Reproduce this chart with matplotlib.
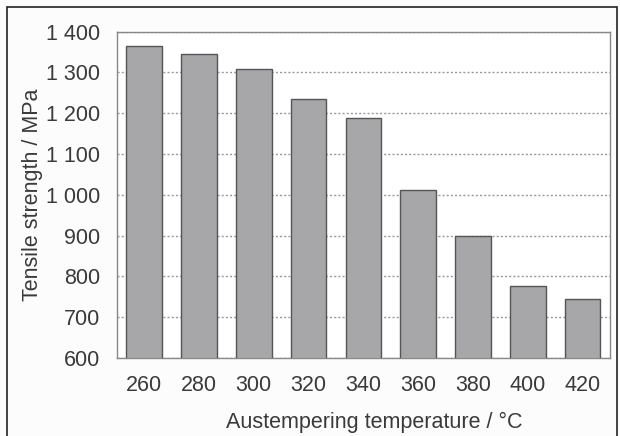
import matplotlib.pyplot as plt
from matplotlib.patches import Rectangle

temps = ['260', '280', '300', '320', '340', '360', '380', '400', '420']
strength = [1364, 1346, 1308, 1235, 1189, 1013, 900, 776, 745]
yticks = [600, 700, 800, 900, 1000, 1100, 1200, 1300, 1400]
ytick_labels = ['600', '700', '800', '900', '1 000', '1 100', '1 200', '1 300', '1 400']

plt.rcParams['font.family'] = ['Liberation Sans', 'DejaVu Sans']

fig = plt.figure(figsize=(6.2, 4.36), dpi=100)
fig.patch.set_facecolor('#fcfcfc')
ax = fig.add_axes([116.7/620, 1 - 358/436, (610 - 116.7)/620, (358 - 31.7)/436])

# outer frame of the figure
fig.patches.append(Rectangle((7/620, -0.05), (617 - 7)/620, 1 - 7/436 + 0.05,
                             transform=fig.transFigure, fill=False,
                             edgecolor='#222222', linewidth=1.2))

x = range(len(temps))
ax.bar(x, strength, width=0.65, color='#a7a7a9', edgecolor='#555555',
       linewidth=1.0, zorder=3)

ax.set_xlim(-0.5, len(temps) - 0.5)
ax.set_ylim(600, 1400)
ax.set_xticks(list(x))
ax.set_xticklabels(temps)
ax.set_yticks(yticks)
ax.set_yticklabels(ytick_labels)
ax.tick_params(length=0, labelsize=15.5, colors='#3a3a3a')
ax.tick_params(axis='y', pad=12)
ax.tick_params(axis='x', pad=12)

ax.yaxis.grid(True, linestyle=(0, (1.5, 1.5)), color='#999999', linewidth=1.0, zorder=0)
for s in ax.spines.values():
    s.set_color('#888888')
    s.set_linewidth(1.0)
ax.set_facecolor('white')

ax.set_xlabel('Austempering temperature / °C', fontsize=15.5, color='#3a3a3a', labelpad=12)
ax.xaxis.label.set_x(0.522)
ax.set_ylabel('Tensile strength / MPa', fontsize=15.5, color='#3a3a3a', labelpad=2)

fig.savefig('out.png', dpi=100, facecolor=fig.get_facecolor())
